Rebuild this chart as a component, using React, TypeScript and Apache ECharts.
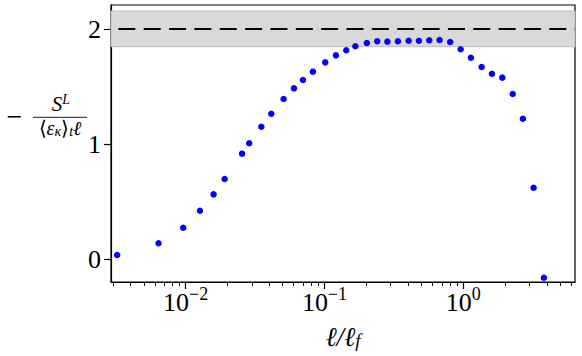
import React, { useEffect, useRef } from "react";
import * as echarts from "echarts";

// Scale ratio ℓ/ℓ_f (x) and normalised flux −S^L/(⟨ε_κ⟩_t ℓ) (y)
const ellValues = [
  0.00321, 0.00638, 0.00961, 0.01268, 0.0159, 0.0191, 0.0255, 0.0287, 0.0351,
  0.0414, 0.0508, 0.0603, 0.07, 0.0826, 0.1013, 0.121, 0.1436, 0.167, 0.202,
  0.24, 0.284, 0.338, 0.404, 0.479, 0.569, 0.675, 0.805, 0.957, 1.135, 1.356,
  1.608, 1.91, 2.27, 2.69, 3.21, 3.81,
];
const fluxValues = [
  0.035, 0.137, 0.272, 0.42, 0.562, 0.696, 0.916, 1.006, 1.15, 1.263, 1.391,
  1.484, 1.557, 1.629, 1.71, 1.771, 1.815, 1.85, 1.878, 1.893, 1.89, 1.893,
  1.898, 1.898, 1.902, 1.904, 1.887, 1.824, 1.75, 1.67, 1.611, 1.577, 1.435,
  1.22, 0.62, -0.163,
];
const referenceLevel = 2;
const bandRange = [1.846, 2.157];
const xMajorTicks = [0.01, 0.1, 1];
const xMinorTicks = [
  0.003, 0.004, 0.005, 0.006, 0.007, 0.008, 0.009,
  0.02, 0.03, 0.04, 0.05, 0.06, 0.07, 0.08, 0.09,
  0.2, 0.3, 0.4, 0.5, 0.6, 0.7, 0.8, 0.9,
  2, 3, 4, 5, 6,
];
const yTicks = [0, 1, 2];
const xRange = [0.0029, 6.38];
const yRange = [-0.2, 2.2087];

const FONT = "Liberation Serif";

export default function App() {
  const ref = useRef<HTMLDivElement>(null);
  useEffect(() => {
    if (!ref.current) return;
    const chart = echarts.init(ref.current, undefined, { renderer: "svg" });
    const points = ellValues.map((x, i) => [x, fluxValues[i]]);
    const supFmt = (v: number) => {
      const e = Math.round(Math.log10(v));
      return `{b|10}{s|${e < 0 ? "−" : ""}${Math.abs(e)}}`;
    };
    chart.setOption({
      animation: false,
      backgroundColor: "#fff",
      textStyle: { fontFamily: FONT },
      grid: {
        left: 111,
        top: 5,
        right: 7,
        bottom: 74,
        show: true,
        borderColor: "#000",
        borderWidth: 1.2,
        backgroundColor: "transparent",
      },
      xAxis: [
        {
          type: "log",
          logBase: 10,
          min: xRange[0],
          max: xRange[1],
          position: "bottom",
          axisLine: { show: true, onZero: false, lineStyle: { color: "#000", width: 1.2 } },
          axisTick: {
            show: true,
            inside: false,
            length: 7,
            customValues: xMajorTicks,
            lineStyle: { color: "#000", width: 1.2 },
          },
          axisLabel: {
            customValues: xMajorTicks,
            formatter: supFmt,
            margin: 3,
            fontFamily: FONT,
            rich: {
              b: { fontSize: 26, fontFamily: FONT, color: "#000", verticalAlign: "bottom", lineHeight: 30 },
              s: { fontSize: 18, fontFamily: FONT, color: "#000", verticalAlign: "top", lineHeight: 16 },
            },
          },
          splitLine: { show: false },
          minorTick: { show: false },
          name: "{i|ℓ/ℓ}{sub|f}",
          nameLocation: "middle",
          nameGap: 36,
          nameTextStyle: {
            fontFamily: FONT,
            rich: {
              i: { fontSize: 27, fontFamily: FONT, fontStyle: "italic", color: "#000", verticalAlign: "bottom", lineHeight: 32 },
              sub: { fontSize: 19, fontFamily: FONT, fontStyle: "italic", color: "#000", verticalAlign: "bottom", lineHeight: 16 },
            },
          },
        },
        {
          type: "log",
          logBase: 10,
          min: xRange[0],
          max: xRange[1],
          position: "bottom",
          axisLine: { show: false, onZero: false },
          axisTick: {
            show: true,
            inside: false,
            length: 4,
            customValues: xMinorTicks,
            lineStyle: { color: "#000", width: 1 },
          },
          axisLabel: { show: false },
          splitLine: { show: false },
        },
      ],
      yAxis: {
        type: "value",
        min: yRange[0],
        max: yRange[1],
        axisLine: { show: true, onZero: false, lineStyle: { color: "#000", width: 1.2 } },
        axisTick: {
          show: true,
          inside: false,
          length: 7,
          customValues: yTicks,
          lineStyle: { color: "#000", width: 1.2 },
        },
        axisLabel: {
          customValues: yTicks,
          fontSize: 26,
          fontFamily: FONT,
          color: "#000",
          margin: 10,
        },
        splitLine: { show: false },
      },
      graphic: [
        {
          type: "text",
          x: 14.5,
          y: 116,
          style: {
            text: "−",
            fontSize: 28,
            fontFamily: FONT,
            fill: "#000",
            align: "center",
            verticalAlign: "middle",
          },
        },
        {
          type: "text",
          x: 61,
          y: 103,
          style: {
            text: "{i|S}{sup|L}",
            align: "center",
            verticalAlign: "middle",
            fontFamily: FONT,
            rich: {
              i: { fontSize: 21, fontFamily: FONT, fontStyle: "italic", fill: "#000", verticalAlign: "bottom", lineHeight: 22 },
              sup: { fontSize: 14, fontFamily: FONT, fontStyle: "italic", fill: "#000", verticalAlign: "top", lineHeight: 8 },
            },
          },
        },
        {
          type: "line",
          shape: { x1: 33, y1: 117.3, x2: 87, y2: 117.3 },
          style: { stroke: "#000", lineWidth: 0.9 },
        },
        {
          type: "text",
          x: 60,
          y: 128,
          style: {
            text: "{n|⟨}{i|ε}{s|κ}{n|⟩}{s|t}{i|ℓ}",
            align: "center",
            verticalAlign: "middle",
            fontFamily: FONT,
            rich: {
              n: { fontSize: 20, fontFamily: FONT, fill: "#000", verticalAlign: "top", lineHeight: 20 },
              i: { fontSize: 20, fontFamily: FONT, fontStyle: "italic", fill: "#000", verticalAlign: "top", lineHeight: 20 },
              s: { fontSize: 14, fontFamily: FONT, fontStyle: "italic", fill: "#000", verticalAlign: "bottom", lineHeight: 10 },
            },
          },
        },
      ],
      series: [
        {
          type: "scatter",
          data: [],
          z: 1,
          silent: true,
          markArea: {
            silent: true,
            itemStyle: { color: "#d9d9d9", borderColor: "#bdbdbd", borderWidth: 1 },
            data: [[{ yAxis: bandRange[0] }, { yAxis: bandRange[1] }]],
          },
        },
        {
          type: "scatter",
          data: [],
          z: 2,
          silent: true,
          markLine: {
            silent: true,
            symbol: "none",
            label: { show: false },
            lineStyle: { color: "#000", type: [17, 8.35], dashOffset: 18.35, width: 1.8 },
            data: [{ yAxis: referenceLevel }],
          },
        },
        {
          type: "scatter",
          data: points,
          z: 3,
          symbol: "circle",
          symbolSize: 6.5,
          itemStyle: { color: "#0000ff", opacity: 1 },
        },
      ],
    });
    return () => chart.dispose();
  }, []);
  return (
    <div
      ref={ref}
      style={{ position: "fixed", left: 0, top: 0, width: 582, height: 356, background: "#fff" }}
    />
  );
}
